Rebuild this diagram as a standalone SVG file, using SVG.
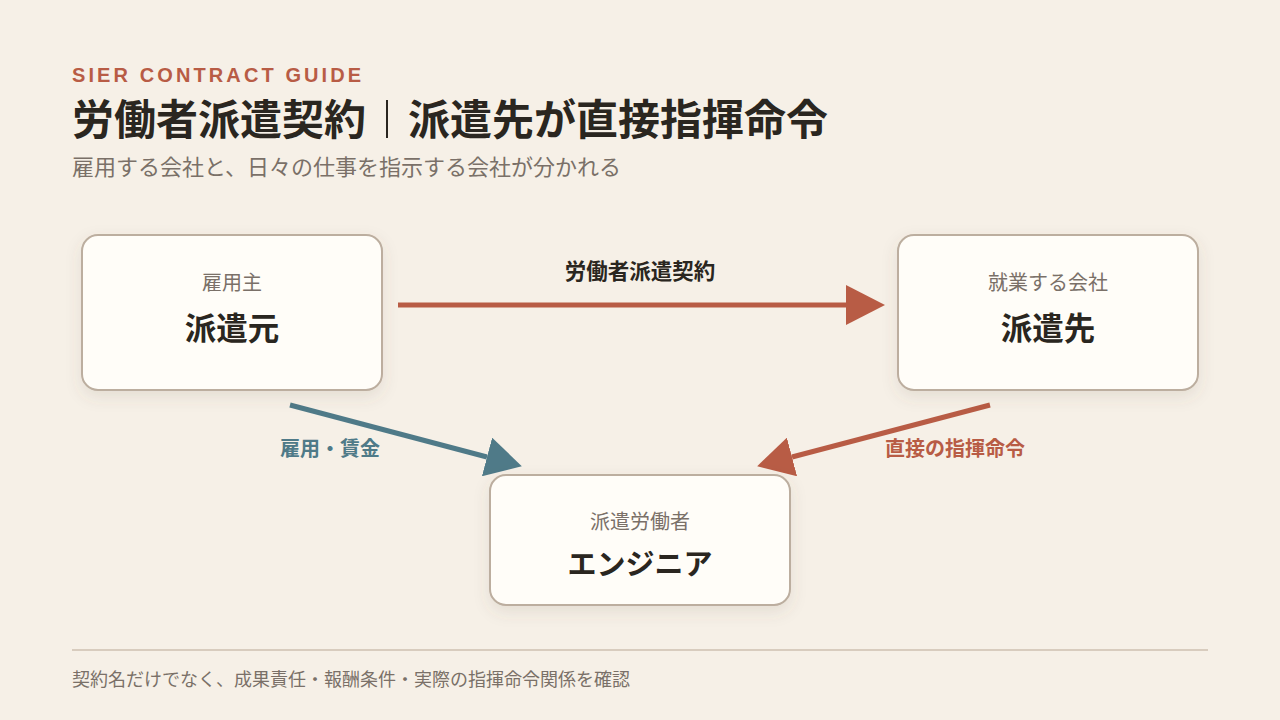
<svg xmlns="http://www.w3.org/2000/svg" width="1280" height="720" viewBox="0 0 1280 720">
<style>
.jp{font-family:"Noto Sans CJK JP","Noto Sans",sans-serif}
.box{fill:#fffdf8;stroke:#bcae9f;stroke-width:2}
.sub{font-size:20px;fill:#7a7068;text-anchor:middle}
.main{font-size:31.5px;font-weight:700;fill:#2a2620;text-anchor:middle}
.lbl{font-size:20px;font-weight:700;text-anchor:middle}
</style>
<defs>
<filter id="sh" x="-20%" y="-20%" width="140%" height="150%">
<feDropShadow dx="0" dy="6" stdDeviation="8" flood-color="#6b5a45" flood-opacity="0.12"/>
</filter>
<marker id="ar" markerUnits="userSpaceOnUse" markerWidth="40" markerHeight="40" refX="0" refY="20" orient="auto" viewBox="0 0 40 40">
<path d="M0,0 L39,20 L0,40 z" fill="#b85c45"/>
</marker>
<marker id="ab" markerUnits="userSpaceOnUse" markerWidth="40" markerHeight="40" refX="0" refY="20" orient="auto" viewBox="0 0 40 40">
<path d="M0,0 L36,20 L0,40 z" fill="#4f7a88"/>
</marker>
<marker id="ar2" markerUnits="userSpaceOnUse" markerWidth="40" markerHeight="40" refX="0" refY="20" orient="auto" viewBox="0 0 40 40">
<path d="M0,0 L36,20 L0,40 z" fill="#b85c45"/>
</marker>
</defs>
<rect width="1280" height="720" fill="#f6f0e7"/>
<g id="header" class="jp">
<text x="72" y="82" font-family="'Liberation Sans',Arial,sans-serif" font-size="20" font-weight="700" letter-spacing="3.1" fill="#b85c45">SIER CONTRACT GUIDE</text>
<text x="72" y="135" font-size="42" font-weight="700" fill="#2a2620">労働者派遣契約</text>
<line x1="387" y1="100" x2="387" y2="138" stroke="#2a2620" stroke-width="2"/>
<text x="408" y="135" font-size="42" font-weight="700" fill="#2a2620">派遣先が直接指揮命令</text>
<text x="72" y="175" font-size="22" fill="#7a7068">雇用する会社と、日々の仕事を指示する会社が分かれる</text>
</g>
<g id="connectors" class="jp">
<line x1="398" y1="305" x2="846" y2="305" stroke="#b85c45" stroke-width="5" marker-end="url(#ar)"/>
<text x="640" y="279" class="lbl" fill="#2a2620" style="font-size:21.5px">労働者派遣契約</text>
<line x1="290" y1="405" x2="487" y2="457" stroke="#4f7a88" stroke-width="5" marker-end="url(#ab)"/>
<text x="330" y="456" class="lbl" fill="#4f7a88">雇用・賃金</text>
<line x1="990" y1="405" x2="792" y2="457" stroke="#b85c45" stroke-width="5" marker-end="url(#ar2)"/>
<text x="955" y="456" class="lbl" fill="#b85c45">直接の指揮命令</text>
</g>
<g id="node-haken-moto" class="jp">
<rect x="82" y="235" width="300" height="155" rx="16" class="box" filter="url(#sh)"/>
<text x="232" y="290" class="sub">雇用主</text>
<text x="232" y="340" class="main">派遣元</text>
</g>
<g id="node-haken-saki" class="jp">
<rect x="898" y="235" width="300" height="155" rx="16" class="box" filter="url(#sh)"/>
<text x="1048" y="290" class="sub">就業する会社</text>
<text x="1048" y="340" class="main">派遣先</text>
</g>
<g id="node-engineer" class="jp">
<rect x="490" y="475" width="300" height="130" rx="16" class="box" filter="url(#sh)"/>
<text x="640" y="529" class="sub">派遣労働者</text>
<text x="640" y="575" class="main" style="font-size:29px">エンジニア</text>
</g>
<g id="footer" class="jp">
<line x1="72" y1="650" x2="1208" y2="650" stroke="#d8ccbe" stroke-width="2"/>
<text x="72" y="686" font-size="18" fill="#7a7068">契約名だけでなく、成果責任・報酬条件・実際の指揮命令関係を確認</text>
</g>
</svg>
